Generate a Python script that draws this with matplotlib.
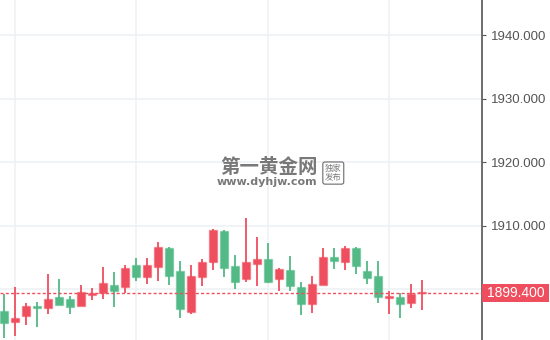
import matplotlib
matplotlib.use("Agg")
import matplotlib.pyplot as plt
import matplotlib.transforms as mtransforms
from matplotlib.colors import to_rgba
from matplotlib.patches import Rectangle

# OHLC values (oldest -> newest)
opens = [1894.65, 1895.5, 1897.4, 1897.1, 1898.5, 1897.55, 1897.25, 1899.55, 1899.35, 1900.95,
         1899.75, 1903.3, 1902.0, 1903.85, 1906.65, 1902.15, 1896.9, 1902.15, 1904.35, 1909.35,
         1903.3, 1901.2, 1904.25, 1904.75, 1901.2, 1903.15, 1900.5, 1897.65, 1900.8, 1905.15,
         1904.45, 1906.55, 1903.7, 1901.85, 1898.85, 1898.9, 1897.65, 1899.25, 1899.6]
highs = [1899.2, 1900.3, 1897.8, 1898.05, 1902.35, 1901.6, 1899.0, 1900.7, 1900.25, 1903.5,
         1902.7, 1903.8, 1905.0, 1905.0, 1907.5, 1906.7, 1904.45, 1903.85, 1904.75, 1909.5,
         1909.35, 1905.4, 1911.2, 1908.2, 1907.25, 1903.4, 1905.2, 1901.2, 1902.15, 1906.55,
         1906.55, 1906.85, 1906.65, 1904.45, 1904.45, 1899.75, 1899.35, 1900.85, 1901.4]
lows = [1892.3, 1892.7, 1894.4, 1894.1, 1896.05, 1897.55, 1896.05, 1897.45, 1898.3, 1898.45,
        1897.25, 1899.35, 1901.35, 1900.8, 1901.3, 1900.7, 1895.55, 1896.1, 1900.55, 1903.05,
        1902.0, 1900.05, 1901.1, 1900.5, 1900.95, 1899.75, 1899.75, 1895.95, 1896.3, 1900.7,
        1903.15, 1903.0, 1902.35, 1900.8, 1897.8, 1896.05, 1895.55, 1897.1, 1896.7]
closes = [1896.6, 1894.8, 1895.75, 1897.4, 1897.1, 1898.85, 1898.45, 1897.45, 1899.1, 1899.35,
          1900.65, 1900.35, 1903.85, 1902.0, 1903.5, 1906.45, 1902.9, 1896.45, 1902.0, 1904.25,
          1909.2, 1903.65, 1901.6, 1904.05, 1904.75, 1901.6, 1903.05, 1900.4, 1897.65, 1900.7,
          1905.15, 1904.35, 1906.45, 1902.9, 1902.15, 1898.6, 1898.85, 1897.8, 1899.4]

last_price = 1899.4
y_ticks = [1900, 1910, 1920, 1930, 1940]
x_grid = [1, 12, 24, 35]

UP = "#53b987"
DOWN = "#ee4e5e"

fig = plt.figure(figsize=(5.5, 3.4), dpi=100)
ax = fig.add_axes([0, 0, 481.7 / 550, 1])

xs = list(range(len(opens)))
colors = [UP if c >= o else DOWN for o, c in zip(opens, closes)]
bottoms = [min(o, c) for o, c in zip(opens, closes)]
heights = [max(abs(c - o), 0.15) for o, c in zip(opens, closes)]

ax.vlines(xs, lows, highs, colors=colors, linewidth=1.3, zorder=2)
ax.bar(xs, heights, bottom=bottoms, width=0.72, color=colors,
       edgecolor=[to_rgba(c, 0.45) for c in colors], linewidth=1.0, zorder=3)

ax.set_xlim(-0.364, 43.43)
ax.set_ylim(1892.02, 1945.56)

# grid
ax.set_xticks(x_grid)
ax.set_yticks(y_ticks)
ax.grid(True, color="#edf1f5", linewidth=1.1, zorder=0)
ax.tick_params(axis="x", length=0, labelbottom=False)

# right price axis (1900 label sits under the price tag)
ax.yaxis.tick_right()
ax.set_yticklabels(["" if v == 1900 else f"{v:.3f}" for v in y_ticks])
ax.tick_params(axis="y", length=3, width=0.8, color="#555555", pad=4,
               labelsize=9.5, labelcolor="#555555")
for lbl in ax.get_yticklabels():
    lbl.set_family("Liberation Sans")
for side in ["left", "top", "bottom"]:
    ax.spines[side].set_visible(False)
ax.spines["right"].set_color("#555555")
ax.spines["right"].set_linewidth(1.2)

# last price line + tag
ax.axhline(last_price, color=DOWN, linewidth=1.0, linestyle=(0, (2.2, 1.6)), zorder=4)
trans = mtransforms.blended_transform_factory(ax.transAxes, ax.transData)
ax.add_patch(Rectangle((1.0, last_price - 1.42), 67 / 481.7, 2.84, transform=trans,
                       facecolor=DOWN, edgecolor="none", clip_on=False, zorder=6))
ax.text(1.0 + 34 / 481.7, last_price, f"{last_price:.3f}", transform=trans,
        ha="center", va="center", color="white", fontsize=10,
        family="Liberation Sans", zorder=7, clip_on=False)

# watermark
wm = "#6a6a6a"
fig.text(0.489, 0.507, "第一黄金网", ha="center", va="center", fontsize=14,
         fontweight="bold", color=wm, family=["Noto Sans CJK SC", "DejaVu Sans"], alpha=0.9)
fig.text(0.486, 0.466, "www.dyhjw.com", ha="center", va="center", fontsize=8,
         fontweight="bold", color=wm, family="DejaVu Sans", alpha=0.9)
fig.text(0.606, 0.491, "独家\n发布", ha="center", va="center", fontsize=6,
         linespacing=1.0, color=wm, family=["Noto Sans CJK SC", "DejaVu Sans"], alpha=0.9,
         bbox=dict(boxstyle="round,pad=0.25", facecolor="none", edgecolor=wm, linewidth=0.8))

fig.savefig("out.png", dpi=100)
